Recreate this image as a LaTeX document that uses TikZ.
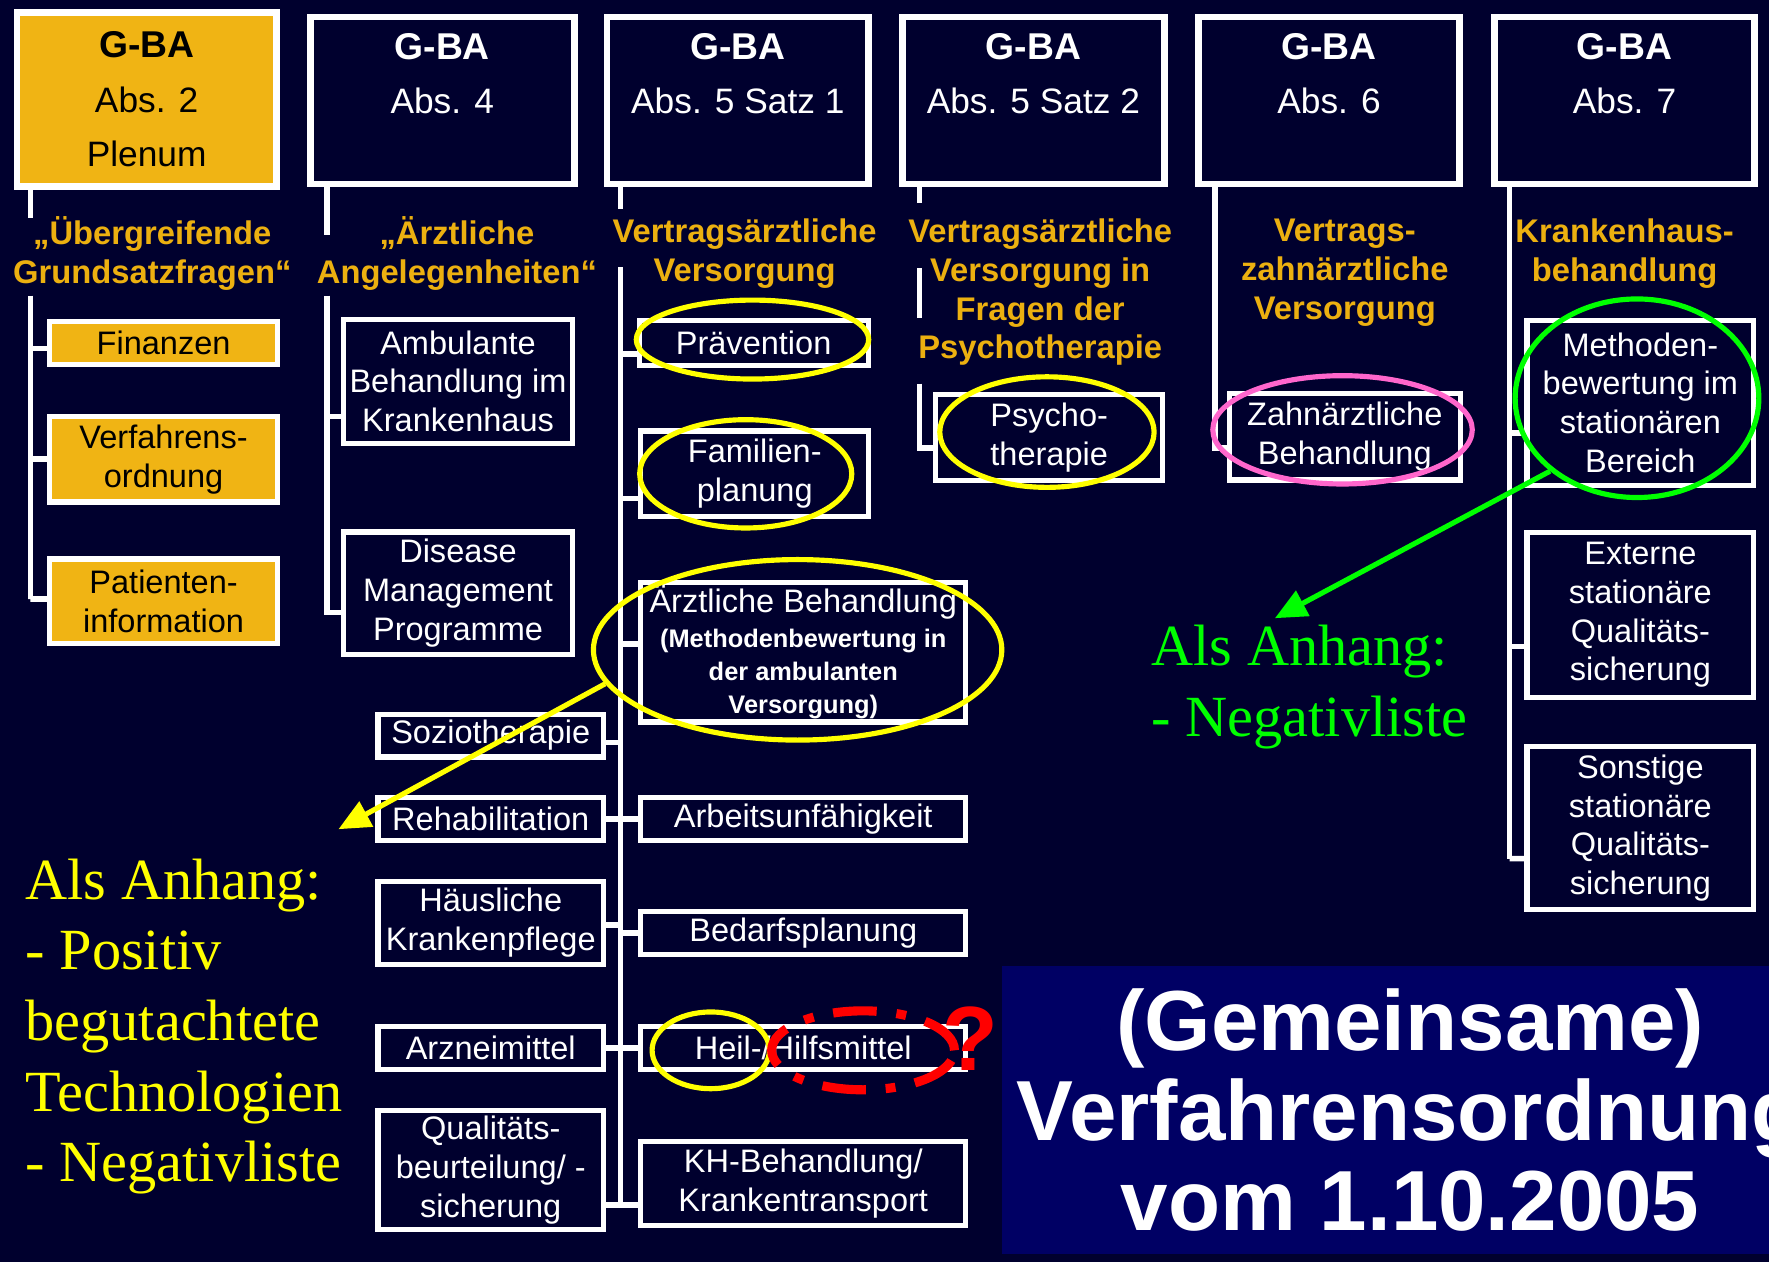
\documentclass[tikz,border=0pt]{standalone}
\usepackage{fontspec}
\setmainfont{Liberation Sans}
\newfontfamily\annofont{Liberation Serif}
\usetikzlibrary{shapes.geometric, arrows.meta, calc, positioning}

\definecolor{bgnavy}{RGB}{0,0,46}
\definecolor{boxnavy}{RGB}{0,0,100}
\definecolor{gbaorange}{RGB}{240,180,20}
\definecolor{headorange}{RGB}{236,176,16}
\definecolor{markyellow}{RGB}{255,255,0}
\definecolor{markgreen}{RGB}{0,255,0}
\definecolor{markpink}{RGB}{255,102,204}

\newcommand{\methfont}{\bfseries\fontsize{6.4}{8.3}\selectfont}
\newcommand{\gbafont}{\bfseries\fontsize{9.4}{13.7}\selectfont}

\tikzset{
  sz/.style 2 args={minimum width=#1*0.01cm, minimum height=#2*0.01cm},
  gbabox/.style={draw=white, line width=1.7pt, fill=bgnavy, text=white, align=center, inner sep=0pt,
    font=\fontsize{8.9}{13.7}\selectfont},
  subbox/.style={draw=white, line width=1.3pt, fill=bgnavy, text=white, align=center, inner sep=0pt,
    font=\fontsize{8.2}{9.8}\selectfont},
  orangebox/.style={fill=gbaorange, text=black},
  heading/.style={text=headorange, align=center, font=\bfseries\fontsize{8.25}{9.8}\selectfont},
  conn/.style={draw=white, line width=1.4pt},
  ringmark/.style={ellipse, draw=#1, line width=1.3pt, inner sep=0pt},
  annoarrow/.style={draw=#1, line width=1.3pt, -{Triangle[length=8pt,width=7pt]}},
  annotext/.style={align=left, inner sep=0pt, anchor=west, font=\annofont\fontsize{14.7}{17.8}\selectfont}
}

\begin{document}
\begin{tikzpicture}[x=0.01cm, y=-0.01cm]
\useasboundingbox (0,0) rectangle (1568,1119);
\clip (0,0) rectangle (1568,1119);
\fill[bgnavy] (0,0) rectangle (1568,1119);

% trunks of the six columns
\coordinate (s1) at (27,193);
\coordinate (s2) at (290,208);
\coordinate (s3) at (550,185);
\coordinate (s4) at (815,180);
\coordinate (t1a) at (27,262);   \coordinate (t1b) at (27,531);
\coordinate (t2a) at (290,262);  \coordinate (t2b) at (290,543);
\coordinate (t3a) at (550,237);  \coordinate (t3b) at (550,1068);
\coordinate (t4a) at (815,238);  \coordinate (t4b) at (815,282);
\coordinate (t4c) at (815,340);  \coordinate (t4d) at (815,397);
\coordinate (t5b) at (1077,397);
\coordinate (t6b) at (1338,761);
\draw[conn] (t1a) -- (t1b);
\draw[conn] (t2a) -- (t2b);
\draw[conn] (t3a) -- (t3b);
\draw[conn] (t4a) -- (t4b);
\draw[conn] (t4c) -- (t4d);

% G-BA boxes
\node[gbabox, orangebox, sz={230}{154}] (top1) at (130,88) {{\gbafont G-BA}\\Abs. 2\\Plenum};
\node[gbabox, sz={234}{148}] (top2) at (392,89) {{\gbafont G-BA}\\Abs. 4\\~};
\node[gbabox, sz={232}{148}] (top3) at (654,89) {{\gbafont G-BA}\\Abs. 5 Satz 1\\~};
\node[gbabox, sz={232}{148}] (top4) at (916,89) {{\gbafont G-BA}\\Abs. 5 Satz 2\\~};
\node[gbabox, sz={231}{148}] (top5) at (1178,89) {{\gbafont G-BA}\\Abs. 6\\~};
\node[gbabox, sz={230}{148}] (top6) at (1440,89) {{\gbafont G-BA}\\Abs. 7\\~};

\draw[conn] (top1.south -| s1) -- (s1);
\draw[conn] (top2.south -| s2) -- (s2);
\draw[conn] (top3.south -| s3) -- (s3);
\draw[conn] (top4.south -| s4) -- (s4);

% headings
\node[heading] (h1) at (135,225) {„Übergreifende\\Grundsatzfragen“};
\node[heading] (h2) at (405,225) {„Ärztliche\\Angelegenheiten“};
\node[heading] (h3) at (660,225) {Vertragsärztliche\\Versorgung};
\node[heading] (h4) at (922,259) {Vertragsärztliche\\Versorgung in\\Fragen der\\Psychotherapie};
\node[heading] (h5) at (1192,242) {Vertrags-\\zahnärztliche\\Versorgung};
\node[heading] (h6) at (1440,225) {Krankenhaus-\\behandlung};

% column 1
\node[subbox, orangebox, sz={202}{38}] (fin) at (145,304) {Finanzen};
\node[subbox, orangebox, sz={202}{76}] (vo) at (145,407) {Verfahrens-\\ordnung};
\node[subbox, orangebox, sz={202}{75}] (pi) at (145,533) {Patienten-\\information};
\draw[conn] ([yshift=-0.05cm]fin.west) -| (t1b);
\draw[conn] (vo.west) -| (t1b);
\draw[conn] ([yshift=0.02cm]pi.west) -| (t1b);

% column 2
\node[subbox, sz={203}{110}] (amb) at (406,338) {Ambulante\\Behandlung im\\Krankenhaus};
\node[subbox, sz={203}{109}] (dmp) at (406,526) {Disease\\Management\\Programme};
\draw[conn] ([yshift=-0.31cm]amb.west) -| (t2b);
\draw[conn] ([yshift=-0.17cm]dmp.west) -| (t2b);

% column 3, right side
\node[subbox, sz={203}{40}] (praev) at (668,304) {Prävention};
\node[subbox, sz={202}{76}] (fam) at (669,420) {Familien-\\planung};
\node[subbox, sz={288}{124}] (arzt) at (712,578)
  {Ärztliche Behandlung\\[-1pt]{\methfont (Methodenbewertung in}\\[-1.5pt]{\methfont der ambulanten}\\[-1.5pt]{\methfont Versorgung)}};
\node[subbox, sz={288}{38}] (au) at (712,726) {Arbeitsunfähigkeit};
\node[subbox, sz={288}{38}] (bed) at (712,827) {Bedarfsplanung};
\node[subbox, sz={288}{38}] (heil) at (712,929) {Heil-/Hilfsmittel};
\node[subbox, sz={288}{74}] (kh) at (712,1049) {KH-Behandlung/\\Krankentransport};
\draw[conn] ([yshift=-0.10cm]praev.west) -| (t3b);
\draw[conn] ([yshift=-0.22cm]fam.west) -| (t3b);
\draw[conn] ([yshift=0.07cm]arzt.west) -| (t3b);
\draw[conn] (au.west) -| (t3b);
\draw[conn] (bed.west) -| (t3b);
\draw[conn] (heil.west) -| (t3b);
\draw[conn] ([yshift=-0.19cm]kh.west) -| (t3b);

% column 3, left side
\node[subbox, sz={200}{38}] (sozio) at (435,652) {Soziotherapie};
\node[subbox, sz={200}{38}] (reha) at (435,726) {Rehabilitation};
\node[subbox, sz={200}{74}] (hkp) at (435,818) {Häusliche\\Krankenpflege};
\node[subbox, sz={200}{38}] (arznei) at (435,929) {Arzneimittel};
\node[subbox, sz={200}{105}] (qual) at (435,1037) {Qualitäts-\\beurteilung/ -\\sicherung};
\draw[conn] ([yshift=-0.06cm]sozio.east) -| (t3b);
\draw[conn] (reha.east) -| (t3b);
\draw[conn] ([yshift=-0.02cm]hkp.east) -| (t3b);
\draw[conn] (arznei.east) -| (t3b);
\draw[conn] ([yshift=-0.31cm]qual.east) -| (t3b);

% column 4
\node[subbox, sz={201}{76}] (psy) at (930,388) {Psycho-\\therapie};
\draw[conn] ([yshift=-0.09cm]psy.west) -| (t4c);

% column 5
\node[subbox, sz={205}{77}] (zahn) at (1192,387) {Zahnärztliche\\Behandlung};
\draw[conn] (top5.south -| t5b) -- (t5b) -- (t5b -| zahn.west);

% column 6
\node[subbox, sz={201}{146}] (meth) at (1454,357) {Methoden-\\bewertung im\\stationären\\Bereich};
\node[subbox, sz={201}{146}] (ext) at (1454,545) {Externe\\stationäre\\Qualitäts-\\sicherung};
\node[subbox, sz={201}{144}] (sonst) at (1454,734) {Sonstige\\stationäre\\Qualitäts-\\sicherung};
\draw[conn] (top6.south -| t6b) -- (t6b);
\draw[conn] ([yshift=-0.27cm]meth.west) -| (t6b);
\draw[conn] ([yshift=-0.28cm]ext.west) -| (t6b);
\draw[conn] ([yshift=-0.27cm]sonst.west) -- (t6b);

% title box
\node[fill=boxnavy, sz={724}{255}, inner sep=0pt, text=white, align=center,
  font=\bfseries\fontsize{21.5}{22.6}\selectfont] (title) at (1250,984)
  {(Gemeinsame)\\Verfahrensordnung\\vom 1.10.2005};

% marks
\node[ringmark=markyellow, sz={206}{70}] (e-praev) at (667,301) {};
\node[ringmark=markyellow, sz={188}{96}] (e-fam) at (661,420) {};
\node[ringmark=markyellow, sz={362}{160}] (e-arzt) at (707,576) {};
\node[ringmark=markyellow, sz={104}{68}] (e-heil) at (630,931) {};
\node[ringmark=markyellow, sz={190}{98}] (e-psy) at (928,383) {};
\node[ringmark=markpink, sz={230}{96}] (e-zahn) at (1190,381) {};
\node[ringmark=markgreen, sz={216}{176}] (e-meth) at (1451,353) {};
\node[ringmark=red, line width=2.3pt, dash pattern=on 11pt off 5pt on 2.5pt off 5pt,
  sz={162}{70}] (e-hilf) at (765,931) {};
\node[text=red, inner sep=0pt, font=\bfseries\fontsize{23}{23}\selectfont] (qmark) at (860,921) {?};

% notes
\coordinate (ytip) at (300,735);
\coordinate (gtip) at (1130,548);
\draw[annoarrow=markyellow] (e-arzt.190) -- (ytip);
\draw[annoarrow=markgreen] (e-meth.220) -- (gtip);
\node[annotext, text=markyellow] (ynote) at (22,910)
  {Als Anhang:\\- Positiv\\begutachtete\\Technologien\\- Negativliste};
\node[annotext, text=markgreen] (gnote) at (1020,609) {Als Anhang:\\- Negativliste};
\end{tikzpicture}
\end{document}
